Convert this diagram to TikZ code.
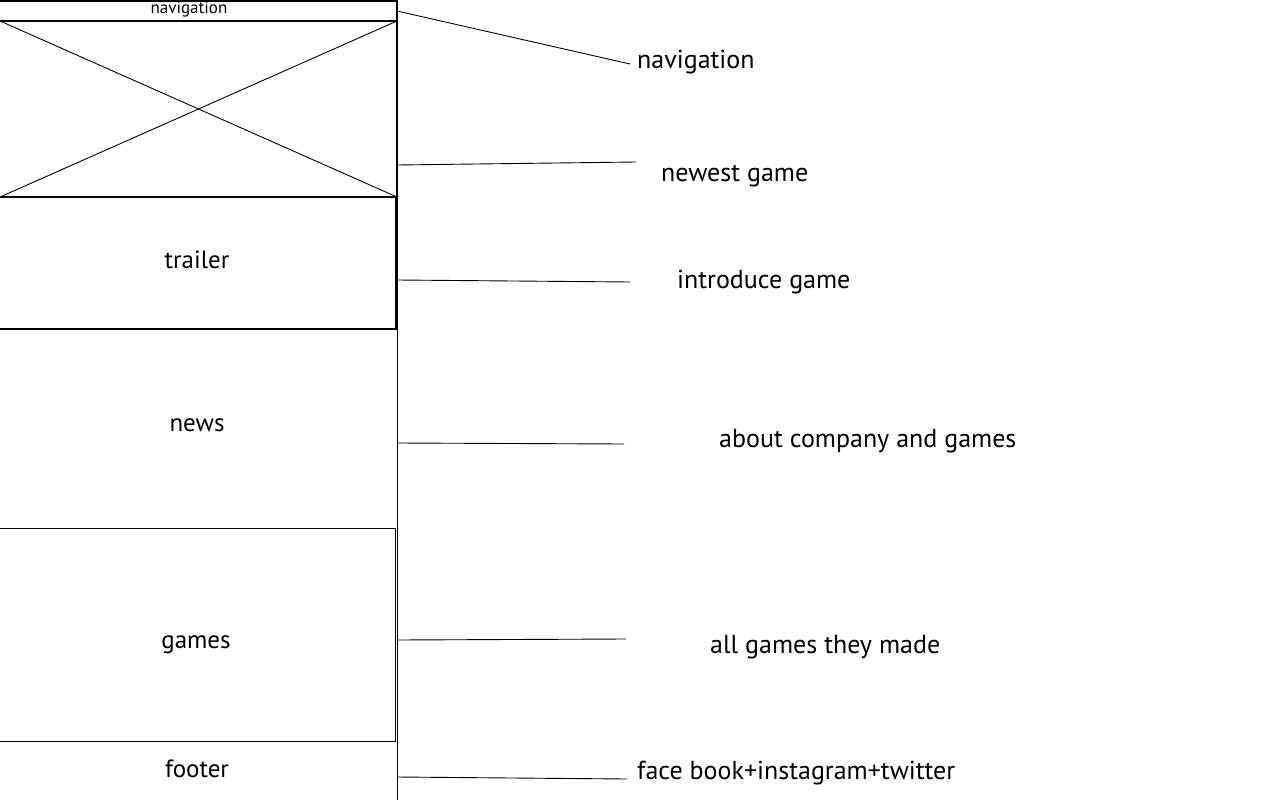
\documentclass[tikz,border=0pt]{standalone}
\usepackage{fontspec}
\setmainfont{PT Sans}
\begin{document}
\begin{tikzpicture}[x=1pt,y=-1pt,
  box/.style={draw=black,line width=1.4pt},
  thin/.style={draw=black,line width=0.9pt},
  conn/.style={draw=black,line width=0.9pt},
  lbl/.style={inner sep=0pt,anchor=base west,font=\fontsize{26}{30}\selectfont},
  sec/.style={inner sep=0pt,anchor=base,font=\fontsize{25}{29}\selectfont}]
\useasboundingbox (0,0) rectangle (1280,800);
\fill[white] (0,0) rectangle (1280,800);
% sections
\draw[box] (-3,1) rectangle (397,21);
\draw[box] (-3,21) rectangle (397,197);
\draw[thin] (0,21) -- (397,197);
\draw[thin] (0,197) -- (397,21);
\draw[box] (-3,197) rectangle (396,329);
\draw[thin] (-3,528) rectangle (395,741);
\draw[thin] (397,0) -- (397,803);
% section texts
\node[sec,font=\fontsize{17}{20}\selectfont] (navt) at (189,14) {navigation};
\node[sec] (trailer) at (197,268) {trailer};
\node[sec] (news) at (197,431) {news};
\node[sec] (games) at (196,648) {games};
\node[sec] (footer) at (197,777) {footer};
% connector anchors
\coordinate (s1) at (397,11);
\coordinate (e1) at (630,64);
\coordinate (s2) at (397,165);
\coordinate (e2) at (636,162);
\coordinate (s3) at (397,280);
\coordinate (e3) at (630,282);
\coordinate (s4) at (397,443);
\coordinate (e4) at (624,444);
\coordinate (s5) at (397,640);
\coordinate (e5) at (626,639);
\coordinate (s6) at (397,777);
\coordinate (e6) at (627,779);
\draw[conn] (s1) -- (e1);
\draw[conn] (s2) -- (e2);
\draw[conn] (s3) -- (e3);
\draw[conn] (s4) -- (e4);
\draw[conn] (s5) -- (e5);
\draw[conn] (s6) -- (e6);
% labels
\node[lbl] (l1) at (637,69) {navigation};
\node[lbl] (l2) at (661,181) {newest game};
\node[lbl] (l3) at (677,288) {introduce game};
\node[lbl] (l4) at (719,447) {about company and games};
\node[lbl] (l5) at (710,653) {all games they made};
\node[lbl] (l6) at (637,779) {face book+instagram+twitter};
\end{tikzpicture}
\end{document}
